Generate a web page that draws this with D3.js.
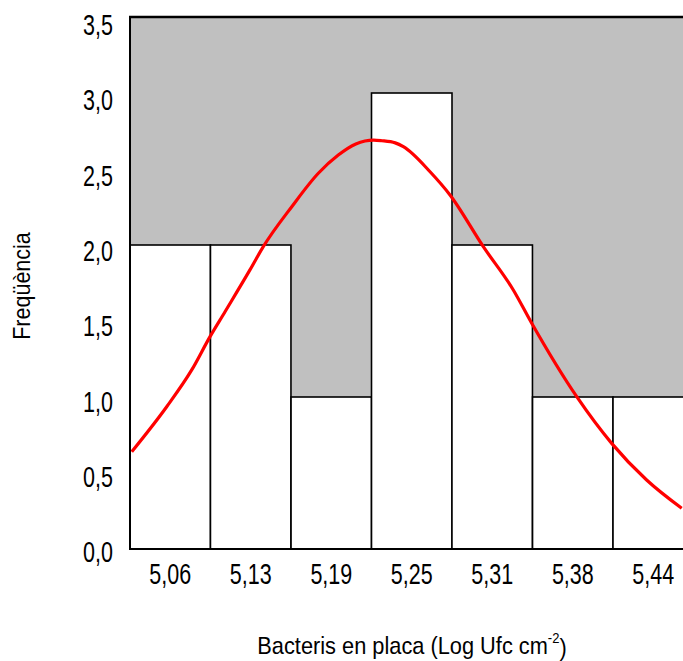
<!DOCTYPE html>
<html>
<head>
<meta charset="utf-8">
<script src="https://cdn.jsdelivr.net/npm/d3@7"></script>
<style>
  html, body { margin: 0; padding: 0; background: #fff; }
  svg { display: block; }
  text { font-family: "Liberation Sans", Arial, sans-serif; fill: #000; }
</style>
</head>
<body>
<svg id="chart" width="683" height="661"></svg>
<script>
// ---- data ----
const binLabels = ["5,06", "5,13", "5,19", "5,25", "5,31", "5,38", "5,44"];
const binCenters = [5.06, 5.1233, 5.1867, 5.25, 5.3133, 5.3767, 5.44];
const counts = [2, 2, 1, 3, 2, 1, 1];
const yTicks = [0, 0.5, 1.0, 1.5, 2.0, 2.5, 3.0, 3.5];
const curveX = [5.0297, 5.0572, 5.0769, 5.0913, 5.1031, 5.1227, 5.1332, 5.1556, 5.1765, 5.1922, 5.2060, 5.2132, 5.2200, 5.2264, 5.2370, 5.2434, 5.2644, 5.2801, 5.3063, 5.3299, 5.3444, 5.3798, 5.4073, 5.4348, 5.4624];
const curveY = [0.64, 0.936, 1.178, 1.397, 1.561, 1.836, 1.989, 2.252, 2.472, 2.592, 2.665, 2.684, 2.690, 2.686, 2.672, 2.647, 2.482, 2.329, 1.989, 1.704, 1.485, 1.002, 0.695, 0.454, 0.268];
const xTitle = "Bacteris en placa (Log Ufc cm";
const yTitle = "Freqüència";

// ---- layout ----
const binW = (binCenters[binCenters.length - 1] - binCenters[0]) / (binCenters.length - 1);
const mLeft = 130, mTop = 17, mBottom = 549, mRight = 693.5;

const svg = d3.select("#chart");
const x = d3.scaleLinear()
  .domain([binCenters[0] - binW / 2, binCenters[binCenters.length - 1] + binW / 2])
  .range([mLeft, mRight]);
const y = d3.scaleLinear().domain([0, 3.5]).range([mBottom, mTop]);
const yLab = y.copy().range([552, 25]);
const fmt = v => d3.format(".1f")(v).replace(".", ",");

// plot background
svg.append("rect")
  .attr("x", x.range()[0]).attr("y", y(3.5))
  .attr("width", x.range()[1] - x.range()[0]).attr("height", y(0) - y(3.5))
  .attr("fill", "#c0c0c0");

// bars
const bins = binCenters.map((c, i) => ({ c, n: counts[i], label: binLabels[i] }));
svg.append("g").selectAll("rect").data(bins).join("rect")
  .attr("x", d => x(d.c - binW / 2))
  .attr("y", d => y(d.n))
  .attr("width", d => x(d.c + binW / 2) - x(d.c - binW / 2))
  .attr("height", d => y(0) - y(d.n))
  .attr("fill", "#fff")
  .attr("stroke", "#000")
  .attr("stroke-width", 1.6);

// fitted curve
const pts = curveX.map((v, i) => [v, curveY[i]]);
svg.append("path")
  .datum(pts)
  .attr("d", d3.line().x(d => x(d[0])).y(d => y(d[1])).curve(d3.curveMonotoneX))
  .attr("fill", "none")
  .attr("stroke", "#ff0000")
  .attr("stroke-width", 3.2)
  .attr("stroke-linejoin", "round");

// frame
svg.append("line").attr("x1", mLeft).attr("x2", mLeft).attr("y1", mTop).attr("y2", mBottom)
  .attr("stroke", "#000").attr("stroke-width", 2);
svg.append("line").attr("x1", mLeft - 1).attr("x2", mRight).attr("y1", mTop).attr("y2", mTop)
  .attr("stroke", "#000").attr("stroke-width", 2.5);
svg.append("line").attr("x1", mLeft - 1).attr("x2", mRight).attr("y1", mBottom).attr("y2", mBottom)
  .attr("stroke", "#000").attr("stroke-width", 2);

// y tick labels
const sy = 1.35;
svg.append("g").selectAll("text").data(yTicks).join("text")
  .attr("transform", d => `translate(113,${yLab(d)}) scale(1,${sy})`)
  .attr("text-anchor", "end")
  .attr("dy", "0.35em")
  .attr("font-size", 21.5)
  .text(fmt);

// x tick labels
svg.append("g").selectAll("text").data(bins).join("text")
  .attr("transform", d => `translate(${x(d.c)},574) scale(1,${sy})`)
  .attr("text-anchor", "middle")
  .attr("dy", "0.35em")
  .attr("font-size", 21.5)
  .text(d => d.label);

// x axis title
const xt = svg.append("text")
  .attr("transform", `translate(412,645) scale(1,1.12)`)
  .attr("text-anchor", "middle")
  .attr("dy", "0.35em")
  .attr("font-size", 21.8);
xt.append("tspan").text(xTitle);
xt.append("tspan").attr("font-size", 13).attr("dy", "-0.7em").text("-2");
xt.append("tspan").attr("dy", "0.5em").text(")");

// y axis title
svg.append("text")
  .attr("transform", `translate(22,286) rotate(-90) scale(1,1.1)`)
  .attr("text-anchor", "middle")
  .attr("dy", "0.35em")
  .attr("font-size", 21.5)
  .text(yTitle);
</script>
</body>
</html>
